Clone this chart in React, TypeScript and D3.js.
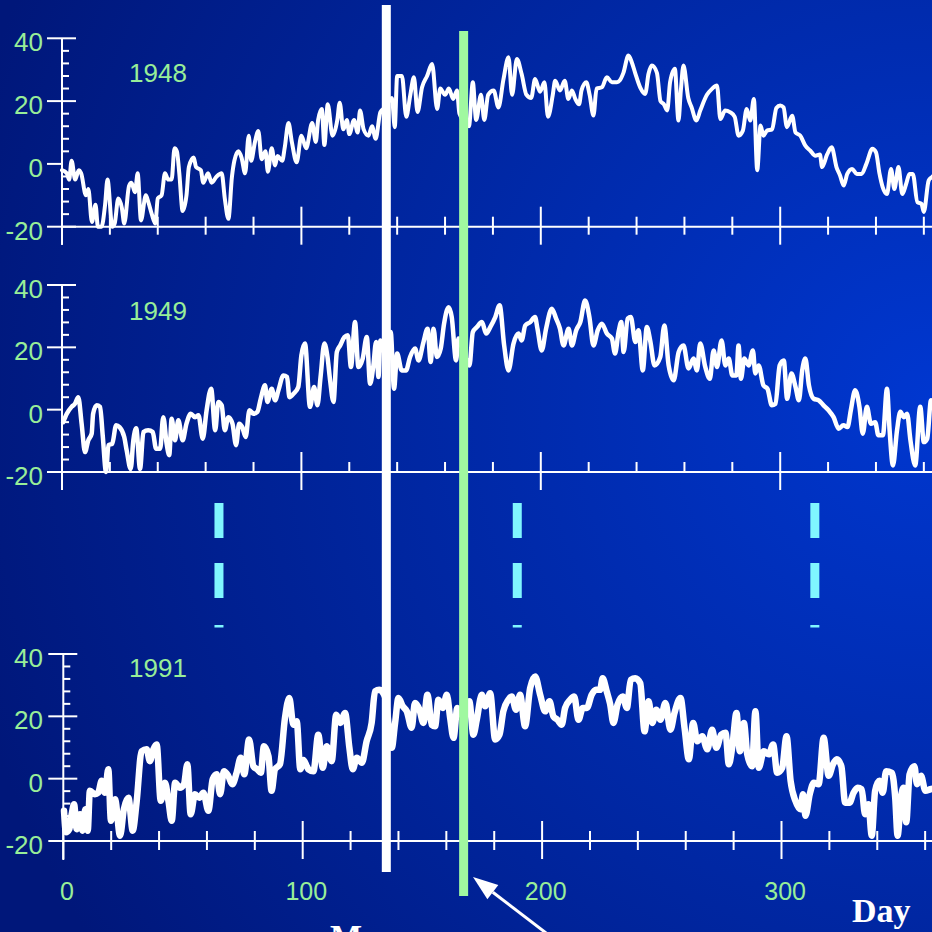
import React from "react";
import * as d3 from "d3";

// daily temperature readings, [day of year, value]
const years = ["1948", "1949", "1991"];

const series1948: [number, number][] = [
  [0, -2], [2, -3], [3, -5], [4, 1], [5.5, -5], [7, -2], [8, -3], [10, -10], [11, -8], [12.5, -18.5],
  [14, -13], [15, -20], [16.5, -20], [18, -13], [19, -5], [21, -20], [22, -19], [23.5, -11], [25, -14], [26, -19],
  [28, -7], [29, -6], [30.5, -9], [31.6, -3], [33, -18], [35, -10], [36, -12], [37.5, -16], [39, -19], [40, -11],
  [41.6, -10], [43, -3], [44.4, -5], [45.8, -5], [47, 5], [48, 4], [49, -3], [50.4, -15], [52, -10], [53, -1],
  [55, 2], [56, -1], [58, -2], [59, -6], [61, -3], [62.5, -6], [64.6, -4], [66.7, -3], [68, -11], [69.5, -17.5],
  [71, -4], [72, 1], [73.7, 4], [75, 2], [76.5, -3], [78, 9], [79, 1], [80.6, 7], [82, 10.5], [83.4, 1.5],
  [85, 4], [86, -2.5], [87.6, 5], [89, -0.5], [90, 2.5], [92, 1], [93, 5], [94.6, 13], [96, 7], [98, 0.5],
  [100, 9], [102, 5], [104.5, 13], [106, 7], [107, 14], [108.5, 17.5], [109.6, 6], [111, 19], [113, 9], [115, 14],
  [116, 19.5], [117.5, 11], [119, 14], [120, 9.5], [122, 14], [123.5, 10], [124.5, 17], [126, 11], [128, 9], [129.5, 12],
  [131, 8], [133, 16.5], [135, 18], [137.8, 21], [139, 11.7], [140, 28], [142, 28], [143.8, 15], [145.5, 22], [147, 27.6],
  [148.5, 16.5], [150.4, 24.4], [152.5, 28], [154.6, 31.8], [156.7, 17.5], [158, 24], [160, 22], [161.6, 24], [163.4, 20.7], [165, 23.4],
  [166, 16], [170, 12], [171.6, 26], [173, 14], [175, 22], [176.4, 14], [178, 22], [180.3, 23.4], [182.3, 18], [184.4, 26.9],
  [186.5, 34], [188, 22], [190, 33.4], [192, 28.6], [194, 22], [196, 21], [197.6, 27], [199.7, 23], [201.5, 26], [203, 15],
  [205, 22], [206, 26.5], [208, 23.4], [210, 26.5], [211.5, 20.7], [213, 23.4], [214.4, 20.7], [216, 19], [217, 23.4], [219, 26],
  [220.4, 22], [222, 15.4], [223.3, 24], [225.5, 24.4], [227.6, 27.6], [229.7, 26], [231.8, 26], [233, 26.6], [234.5, 29], [236.6, 34.5],
  [238, 32.4], [239.4, 29], [241.5, 24.4], [243.6, 22.3], [245, 28.7], [246.4, 31.3], [248.5, 29], [250, 20], [251.4, 19], [252.8, 17],
  [254, 26], [256, 30.3], [257.5, 13.8], [258.5, 23.4], [259.6, 31.3], [261.6, 21], [263, 18], [265, 13.8], [266.6, 17], [269.4, 22],
  [271.5, 23.9], [273.6, 25], [275, 14.3], [277, 17], [279, 16.5], [281, 15], [282.6, 9], [284.4, 10.6], [286, 17.5], [287.5, 13.8],
  [289, 20.7], [290.4, -2], [291.8, 12.2], [293, 9], [294.5, 10.6], [296.6, 11], [298.4, 17.8], [300, 18.6], [301.4, 18], [302.8, 11.7],
  [305, 15.3], [306.4, 10], [308.4, 9], [310.5, 5.8], [312.6, 4.2], [314.7, 2.6], [316.6, 3], [317.5, -1], [319.6, 3], [321.5, 5.3],
  [323.5, -1], [325, -3.7], [326.5, -6.9], [328, -3.2], [330, -1.6], [332, -3.2], [334, -3.2], [336, 0], [338.5, 4.8], [340, 3.7],
  [341.5, -3.2], [342.8, -7.4], [344.6, -9.6], [346.3, -1.6], [347.7, -8], [349.4, -1], [351, -9.6], [352.6, -6.4], [354, -3.2], [355.4, -3.2],
  [357.3, -12.2], [359, -12.7], [360, -15.3], [362, -5.3], [363.4, -4.2], [365, -3],
];

const series1949: [number, number][] = [
  [0.5, -4], [2, -1.3], [4, 0.9], [5.4, 1.9], [6.8, 4], [8.2, -4.5], [9.6, -13.6], [11, -9.8], [12.4, -7.7], [13, -1.3],
  [14.5, 1.4], [15.9, 0.9], [17, -8.2], [18.4, -20], [19.4, -11.4], [21, -10.9], [22.6, -5], [24, -5.6], [26, -8.8], [27, -13],
  [28.7, -19], [29.8, -9.8], [31, -6], [32.6, -19], [34, -7.2], [36, -6.6], [37.9, -7.2], [39.3, -12.5], [41, -12.5], [42.3, -2.4],
  [43.7, -10.9], [44.8, -14.6], [45.8, -2.9], [47.2, -9.8], [48.6, -3.4], [50.4, -9.8], [52, -4.5], [53.8, -1.3], [55.6, -2.4], [57, -1.8],
  [58.8, -9.3], [60.4, -0.2], [62.3, 6.7], [64, -6.6], [65.3, 2.5], [66.7, 1.4], [68, -6.6], [69.5, -2.4], [71.2, -4.5], [72.7, -11.4],
  [74, -4.5], [75.3, -5.6], [76.7, -8.8], [78.3, -0.2], [80, -1.3], [81.6, -0.7], [83, 3.5], [84.8, 7.8], [85.8, 2.5], [87.6, 6.7],
  [89, 3], [90.4, 6.2], [92.5, 11], [94, 10.5], [95, 4], [96.7, 5.1], [98.7, 7.3], [100, 17.4], [101.5, 21.2], [103.6, 0.9],
  [105.3, 7.3], [106.7, 1.4], [108, 10.5], [109.6, 21.2], [110.9, 16.9], [112, 9.4], [113.4, 2.5], [114.8, 18.5], [116.2, 20.6], [118, 23.3],
  [119.4, 23.9], [120.7, 13.7], [122.4, 28.1], [123.8, 13.7], [125.6, 16.4], [127.3, 23.3], [128.7, 8.3], [130, 13.7], [131.2, 21.7], [132.2, 10.5],
  [133, 22.2], [135, 18], [137.3, 24.9], [138.7, 6.7], [140, 18], [141.9, 12.6], [143.7, 12.6], [145.4, 16.9], [147.5, 19.6], [148.9, 15.8],
  [151, 21.7], [152.7, 26], [154, 15.3], [155.2, 26], [156.6, 16.9], [158.2, 19.6], [159.6, 27.6], [161.5, 32.9], [162.8, 29.7], [164.6, 15.8],
  [165.6, 22.8], [168, 18], [170.2, 14.2], [171.6, 24.9], [173.3, 26.5], [175.4, 28.1], [177.2, 24.4], [178.9, 26.5], [181, 29.7], [182.8, 33.5],
  [184.7, 20.6], [186.5, 12.6], [188.6, 21.2], [190.7, 24.4], [192, 22.2], [193.5, 27], [195.6, 28.1], [197.6, 29.7], [198.6, 26], [200.4, 19],
  [202.2, 26], [204.6, 32.4], [206.4, 29.2], [208, 26], [209.5, 20.6], [211.6, 26], [213, 20.6], [214.8, 25.5], [216.5, 28.1], [218.5, 35],
  [220.3, 29.7], [222, 20.6], [223.8, 25.5], [225.5, 27.6], [227.6, 24.4], [229.7, 22.8], [231, 18], [232.5, 25], [233.6, 28.1], [234.6, 18.5],
  [236.3, 29.2], [237.6, 29.7], [239.5, 21.7], [240.8, 25.5], [242.6, 12.6], [244.3, 26.5], [245.8, 21.7], [247.5, 14.2], [249.9, 16.9], [251.6, 27],
  [253.4, 14.2], [255.5, 9.4], [257.6, 18.5], [259.6, 20.6], [261.7, 13.2], [263.8, 16.4], [265.2, 12.6], [266.6, 21.2], [268.7, 13.7], [270.6, 9.9],
  [272.2, 19], [273.6, 13.7], [275.5, 22.2], [277.1, 14.2], [278.5, 16.4], [280, 11], [281.7, 11], [282.6, 20.6], [283.6, 9.9], [285, 16.4],
  [286.8, 14.2], [288.6, 19], [289.6, 11.6], [291, 14.2], [293, 7.8], [294.7, 6.7], [296.5, 1.4], [298, 1.9], [299.8, 14.2], [301.5, 15.8],
  [302.9, 3.5], [304.7, 11.6], [306.4, 7.3], [307.8, 3], [309.2, 12.6], [310.5, 16.4], [312, 7.8], [314, 3.5], [316.1, 3], [318.1, 1.4],
  [320.2, -0.2], [322.3, -2.4], [324.4, -6.1], [326.4, -5], [328.1, -5.6], [329.5, -0.2], [331.3, 6.2], [333.1, 0.9], [334.5, -7.7], [336.2, 0.9],
  [337.9, -4.5], [339.7, -4], [341, -8.2], [342.9, -8.2], [344.6, 6.7], [345.7, -6.6], [347.1, -17.9], [348.8, -6.6], [350.2, -0.7], [351.6, -2.4],
  [353, -1.3], [354.4, -9.8], [356.4, -17.9], [358.5, 0.9], [360, -10.4], [361.4, -9.3], [363, 3], [365, -2],
];

const series1991: [number, number][] = [
  [0.3, -10.3], [1.1, -17.2], [2.5, -16.2], [3.5, -11.4], [4.5, -8.2], [5.6, -16.2], [7, -11.4], [8, -16.7], [9.2, -9.8], [10.2, -16.7],
  [11.1, -3.9], [13.2, -5], [14.6, -4.5], [16, -0.7], [17.4, -4.5], [18.8, 3], [19.9, -13.5], [21.6, -6.6], [23.7, -18.3], [25.3, -9.8],
  [27.2, -6.1], [29, -16.7], [30.6, -7.7], [32.7, 8.8], [34.8, 9.4], [36.2, 5.6], [37.6, 9.4], [39, 11], [40.7, -7.1], [42.5, -1.3],
  [43.9, -7.1], [45.3, -13.5], [46.7, -1.3], [48.7, -2.9], [50.4, -1.8], [51.8, 4.6], [53.2, -11.4], [55, -5], [56.8, -6.1], [58.5, -4.5],
  [60.6, -10.3], [62.4, -0.2], [64.1, 1.4], [65.5, -5], [67.1, 2.4], [68.9, 0.9], [70.6, -1.8], [72.4, 1.9], [74.1, 6.7], [75.6, 1.4],
  [77.6, 12.6], [79.4, 4], [81, 3], [82.5, 1.9], [83.8, 10.4], [85.7, 7.2], [87, -3.9], [88.4, 3], [90.5, 4.6], [92.6, 19.5],
  [94.4, 25.9], [96.1, 17.3], [97.5, 18.4], [99, 3], [100.3, 6], [101.7, 4], [102.4, 3], [104.5, 2.4], [106.5, 14.1], [108.4, 3.5],
  [110, 10.4], [112.1, 5.6], [114, 20.5], [115.7, 17.9], [117.7, 21.1], [119.5, 9.9], [120.9, 3], [122.6, 6.7], [124.7, 5.1], [126.7, 12],
  [128.8, 17.9], [130.2, 28], [132, 28.5], [134.5, 26], [137.2, 9.9], [138.6, 17.9], [140, 25.9], [141.8, 23.2], [143.5, 21.6], [145.5, 16.3],
  [146.9, 24.3], [148.8, 22.1], [150.4, 17.9], [152.1, 26.9], [153.9, 17.3], [155.3, 16.8], [156.7, 25.3], [158.5, 22.7], [160.2, 26.9], [161.6, 19.5],
  [163, 13.1], [164.6, 22.7], [167, 20], [169.6, 24.8], [171.3, 14.1], [172.7, 18.9], [174.8, 26.9], [176.2, 23.2], [178.3, 27.4], [180.4, 12.6],
  [182.2, 14.1], [183.8, 21.6], [185.9, 25.3], [187.3, 26.4], [189.1, 22.1], [190.8, 26.9], [192.9, 16.8], [195, 29], [197.1, 32.8], [199.2, 26.9],
  [201.3, 21.6], [203.1, 24.8], [204.7, 20], [206.4, 18.9], [208.2, 17.3], [209.6, 22.7], [211.7, 25.3], [213.4, 26.4], [215.2, 18.9], [217, 22.7],
  [218.7, 22.7], [220.7, 26.9], [222.5, 28.5], [224.2, 28.5], [225.3, 32.2], [227, 28], [228.4, 24], [229.8, 17.9], [231.5, 23.7], [233.7, 26.4],
  [235.4, 22.7], [237, 31.7], [238.9, 32.2], [241, 30.6], [242.8, 15.2], [244.5, 24.8], [246, 17.9], [247.7, 22.1], [249.4, 18.9], [251.5, 24.3],
  [253.6, 15.7], [255.3, 21.1], [257.8, 25.9], [259.5, 16.3], [261.3, 6.2], [263.1, 17.9], [264.8, 12], [266.9, 13.6], [269, 9.4], [271, 15.7],
  [272.8, 9.9], [274.8, 14.1], [276.6, 14.7], [278, 4.6], [279.4, 9.9], [281.2, 21.1], [282.6, 8.8], [284.3, 17.9], [285.7, 7.8], [287.7, 4],
  [289.1, 21.6], [290.5, 3.5], [292.6, 8.8], [294.7, 7.8], [296.5, 11], [298.2, 1.9], [300.3, 3.5], [302.1, 13.6], [303.8, -0.7], [305.8, -7.1],
  [307.9, -9.8], [309, -5], [310, -11.9], [311.8, -5], [313.5, -1.3], [315.5, -1.8], [317.6, 13.1], [319.7, 0.9], [321.5, 4.6], [323.1, 6.2],
  [325, 4], [326.6, -7.7], [328.4, -7.7], [330.1, -4.5], [331.8, -2.9], [333.5, -3.4], [334.9, -11.4], [336.3, -8.2], [337.7, -18.3], [339.1, -3.9],
  [340.9, -0.7], [342.3, -4.5], [343.7, 2.4], [346.1, 1.9], [347.5, -6.1], [348.5, -18.3], [349.9, -6.1], [351, -2.9], [352.1, -14], [353.5, 1.4],
  [355.5, 4], [356.6, -1.8], [358.3, 0.9], [360.1, -3.9], [362.2, -3.4], [365, -3],
];

const allSeries = [series1948, series1949, series1991];

const yTickLabels = [40, 20, 0, -20];
const xTickLabels = [0, 100, 200, 300];
const markDays = [135.3, 167.6]; // white, green
const gapDays = [65.4, 190, 314.3];

const W = 932;
const H = 932;
const PX_PER_DAY = 2.394;
const GREEN = "#98ee98";

// per-panel geometry (pixels), separate from the data
const layout = [
  { top: 38.3, bottom: 226.7, x0: 62, labelY: 82, stroke: 4, zeroCross: false, minorDown: 8, axisDown: 18 },
  { top: 285, bottom: 472, x0: 62, labelY: 320, stroke: 4.5, zeroCross: false, minorDown: 0, axisDown: 18 },
  { top: 654, bottom: 841, x0: 63.3, labelY: 677, stroke: 6.5, zeroCross: true, minorDown: 9, axisDown: 19 },
];

function Panel({ data, year, lay }: { data: [number, number][]; year: string; lay: typeof layout[0] }) {
  const x = d3.scaleLinear().domain([0, 365]).range([lay.x0, lay.x0 + 365 * PX_PER_DAY]);
  const y = d3.scaleLinear().domain([-20, 40]).range([lay.bottom, lay.top]);
  const path = d3.line<[number, number]>()
    .x((d) => x(d[0]))
    .y((d) => y(Math.max(-20, d[1])))
    .curve(d3.curveMonotoneX)(data);

  const minorY = d3.range(-20, 41, 4).filter((v) => v % 20 !== 0);
  const dayTicks = d3.range(0, 361, 20);
  const base = y(-20);

  return (
    <g>
      <path d={path || ""} fill="none" stroke="#fff" strokeWidth={lay.stroke} strokeLinejoin="round" strokeLinecap="round" />
      {/* y axis */}
      <line x1={lay.x0} x2={lay.x0} y1={y(40)} y2={base + lay.axisDown} stroke="#fff" strokeWidth={2} />
      {yTickLabels.map((v) => (
        <g key={v}>
          <line x1={lay.x0 - 15} x2={v === 0 && !lay.zeroCross ? lay.x0 : lay.x0 + 14} y1={y(v)} y2={y(v)} stroke="#fff" strokeWidth={2} />
          <text x={43} y={y(v) + 13} textAnchor="end" fontSize={26} fill={GREEN} fontFamily="Liberation Sans, Arial, sans-serif">{v}</text>
        </g>
      ))}
      {minorY.map((v) => (
        <line key={v} x1={lay.x0} x2={lay.x0 + 7} y1={y(v)} y2={y(v)} stroke="#fff" strokeWidth={2} />
      ))}
      {/* x axis */}
      <line x1={lay.x0} x2={W} y1={base} y2={base} stroke="#fff" strokeWidth={2} />
      {dayTicks.map((d) => {
        const major = d % 100 === 0;
        return (
          <line key={d} x1={x(d)} x2={x(d)} y1={base - (major ? 20 : 10)} y2={base + (major ? 18 : lay.minorDown)} stroke="#fff" strokeWidth={2} />
        );
      })}
      <text x={129} y={lay.labelY} fontSize={26} fill={GREEN} fontFamily="Liberation Sans, Arial, sans-serif">{year}</text>
    </g>
  );
}

export default function App() {
  const x = d3.scaleLinear().domain([0, 365]).range([62.4, 62.4 + 365 * PX_PER_DAY]);
  const barW = 9;

  // arrow toward the green line
  const tip: [number, number] = [473, 877];
  const tail: [number, number] = [550, 936];
  const dx = tip[0] - tail[0];
  const dy = tip[1] - tail[1];
  const len = Math.hypot(dx, dy);
  const ux = dx / len;
  const uy = dy / len;
  const bx = tip[0] - ux * 25;
  const by = tip[1] - uy * 25;
  const head = [
    [tip[0], tip[1]],
    [bx + -uy * 9, by + ux * 9],
    [bx - -uy * 9, by - ux * 9],
  ].map((p) => p.join(",")).join(" ");

  return (
    <svg width={W} height={H} style={{ position: "absolute", left: 0, top: 0, display: "block" }}>
      <defs>
        <radialGradient id="bg" gradientUnits="userSpaceOnUse" cx={932} cy={400} r={1000}>
          <stop offset="0" stopColor="#0037d0" />
          <stop offset="0.55" stopColor="#0026a0" />
          <stop offset="1" stopColor="#00177a" />
        </radialGradient>
      </defs>
      <rect width={W} height={H} fill="url(#bg)" />

      {allSeries.map((s, i) => (
        <Panel key={years[i]} data={s} year={years[i]} lay={layout[i]} />
      ))}

      {/* gap markers between 1949 and 1991 */}
      {gapDays.map((d) => (
        <g key={d} fill="#80f6ff">
          <rect x={x(d) - 4.5} y={503} width={9} height={35} />
          <rect x={x(d) - 4.5} y={563} width={9} height={35} />
          <rect x={x(d) - 4.5} y={625} width={9} height={2.5} />
        </g>
      ))}

      {/* vertical markers */}
      <rect x={x(markDays[0]) - barW / 2} y={5} width={barW} height={867} fill="#ffffff" />
      <rect x={x(markDays[1]) - barW / 2} y={31} width={barW} height={865} fill="#a0f8a0" />

      {/* bottom day labels */}
      {xTickLabels.map((d) => (
        <text key={d} x={x(d) + 4.5} y={900} textAnchor="middle" fontSize={25} fill={GREEN} fontFamily="Liberation Sans, Arial, sans-serif">{d}</text>
      ))}

      <text x={852} y={922} fontSize={34} fontWeight="bold" fill="#fff" fontFamily="Liberation Serif, Times New Roman, serif">Day</text>
      <text x={330} y={948} fontSize={34} fontWeight="bold" fill="#fff" fontFamily="Liberation Serif, Times New Roman, serif">Mean</text>

      <line x1={tail[0]} y1={tail[1]} x2={bx} y2={by} stroke="#fff" strokeWidth={3} />
      <polygon points={head} fill="#fff" />
    </svg>
  );
}
